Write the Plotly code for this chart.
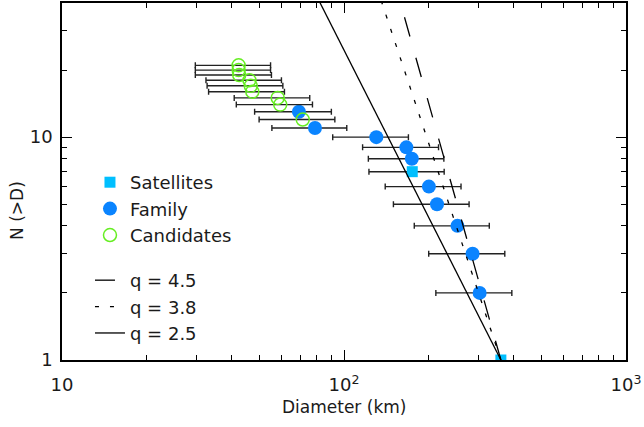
import plotly.graph_objects as go

# ---------------- data ----------------
sat_D = [360.0, 174.6]
sat_N = [1, 7]
sat_err = [0.0, 52.0]

fam_D = [302.7, 285.7, 252.5, 213.7, 200.0, 174.0, 166.4, 130.2, 78.9, 69.2]
fam_N = [2, 3, 4, 5, 6, 8, 9, 10, 11, 13]
fam_err = [91.0, 86.0, 75.0, 64.0, 60.0, 52.0, 50.0, 39.0, 23.4, 21.0]

cand_D = [71.4, 59.4, 58.2, 47.3, 46.7, 46.2, 42.5, 42.3, 42.3]
cand_N = [12, 14, 15, 16, 17, 18, 19, 20, 21]
cand_err = [21.4, 17.9, 17.4, 14.2, 14.0, 13.8, 12.8, 12.6, 12.6]

# power-law slopes  N(>D) = (D / D0)^(-q)
q_values = [4.5, 3.8, 2.5]
q_dashes = ["20px,22px", "4px,11px", "solid"]
D0 = 360.0
N_line = [1.0, 45.0]

x_tickvals = [10, 100, 1000]
x_ticktext = ["10", "10<sup>2</sup>", "10<sup>3</sup>"]
x_minor = [20, 30, 40, 50, 60, 70, 80, 90, 200, 300, 400, 500, 600, 700, 800, 900]
y_tickvals = [1, 10]
y_ticktext = ["1", "10"]
y_minor = [2, 3, 4, 5, 6, 7, 8, 9, 20, 30, 40]

FONT = "DejaVu Sans"
TXT = "#1a1a1a"

fig = go.Figure()

err_style = dict(type="data", thickness=1.4, width=3, color="#222222")

fig.add_trace(go.Scatter(
    x=sat_D, y=sat_N, mode="markers", name="Satellites",
    marker=dict(symbol="square", size=11, color="#00bfff"),
    error_x=dict(array=sat_err, **err_style),
    legend="legend",
))
fig.add_trace(go.Scatter(
    x=fam_D, y=fam_N, mode="markers", name="Family",
    marker=dict(symbol="circle", size=14, color="#0a84ff"),
    error_x=dict(array=fam_err, **err_style),
    legend="legend",
))
fig.add_trace(go.Scatter(
    x=cand_D, y=cand_N, mode="markers", name="Candidates",
    marker=dict(symbol="circle-open", size=13, color="#66ee22", line=dict(width=1.5)),
    error_x=dict(array=cand_err, **err_style),
    legend="legend",
))

for q, dash in zip(q_values, q_dashes):
    xs = [D0 * n ** (-1.0 / q) for n in N_line]
    fig.add_trace(go.Scatter(
        x=xs, y=N_line, mode="lines", name=f"q = {q}",
        line=dict(color="black", width=1.3, dash=dash),
        legend="legend2",
    ))

axis_common = dict(
    type="log", showgrid=False, zeroline=False,
    showline=True, linecolor="black", linewidth=1.5, mirror="ticks",
    ticks="inside", ticklen=10, tickwidth=1.2, tickcolor="black",
    tickfont=dict(family=FONT, size=18, color=TXT),
)

fig.update_layout(
    width=644, height=427,
    margin=dict(l=62, r=18, t=3, b=67, autoexpand=False),
    paper_bgcolor="white", plot_bgcolor="white",
    font=dict(family=FONT, size=18, color=TXT),
    xaxis=dict(
        range=[1, 3], tickvals=x_tickvals, ticktext=x_ticktext,
        minor=dict(tickvals=x_minor, ticks="inside", ticklen=5, tickwidth=1.1,
                   tickcolor="black", showgrid=False),
        ticklabelstandoff=8,
        **axis_common,
    ),
    yaxis=dict(
        range=[0, 1.60206], tickvals=y_tickvals, ticktext=y_ticktext,
        minor=dict(tickvals=y_minor, ticks="inside", ticklen=5, tickwidth=1.1,
                   tickcolor="black", showgrid=False),
        ticklabelstandoff=4,
        **axis_common,
    ),
    legend=dict(
        x=0.0496, y=0.549, xanchor="left", yanchor="top",
        bgcolor="rgba(0,0,0,0)", borderwidth=0,
        font=dict(family=FONT, size=18, color=TXT),
        traceorder="normal",
    ),
    legend2=dict(
        x=0.0496, y=0.2746, xanchor="left", yanchor="top",
        bgcolor="rgba(0,0,0,0)", borderwidth=0,
        font=dict(family=FONT, size=18, color=TXT),
        traceorder="normal",
    ),
    annotations=[
        dict(text="Diameter (km)", xref="paper", yref="paper", x=0.5, y=-0.131,
             xanchor="center", yanchor="middle", showarrow=False,
             font=dict(family=FONT, size=17, color=TXT)),
        dict(text="N (>D)", xref="paper", yref="paper", x=-0.08, y=0.42,
             xanchor="center", yanchor="middle", showarrow=False, textangle=-90,
             font=dict(family=FONT, size=17, color=TXT)),
    ],
)

fig.write_html("out.html", config={"displayModeBar": False},
               post_script="document.body.style.margin='0';")
